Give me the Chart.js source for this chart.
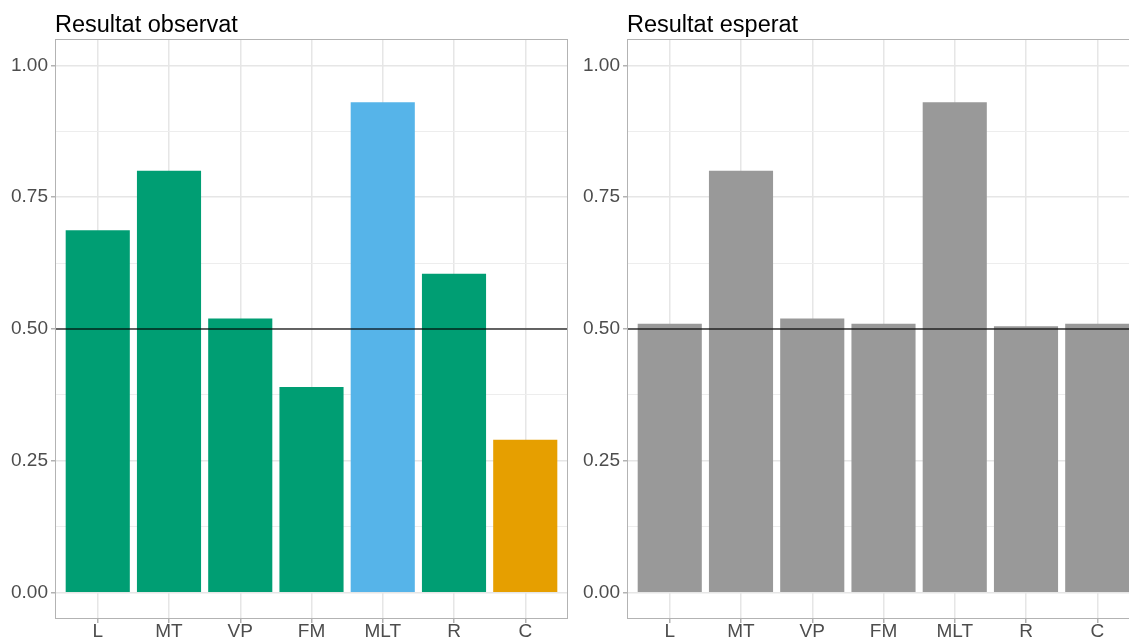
<!DOCTYPE html>
<html>
<head>
<meta charset="utf-8">
<script src="https://cdn.jsdelivr.net/npm/chart.js@4/dist/chart.umd.min.js"></script>
<style>
  html, body { margin: 0; padding: 0; background: #fff; }
  body { width: 1129px; height: 640px; overflow: hidden; position: relative; }
  canvas { position: absolute; top: 0; }
  #chartObs { left: 0; }
  #chartExp { left: 572px; }
</style>
</head>
<body>
<canvas id="chartObs" width="570" height="640"></canvas>
<canvas id="chartExp" width="570" height="640"></canvas>
<script>
/* categories */
var categories = ['L', 'MT', 'VP', 'FM', 'MLT', 'R', 'C'];
/* observed result */
var observed = [0.6875, 0.80, 0.52, 0.39, 0.93, 0.605, 0.29];
var observedColors = ['#009E73', '#009E73', '#009E73', '#009E73', '#56B4E9', '#009E73', '#E69F00'];
/* expected result */
var expected = [0.51, 0.80, 0.52, 0.51, 0.93, 0.505, 0.51];
var expectedColor = '#999999';
/* y ticks: majors get a label, minors only a light grid line */
var yTicks = [0, 0.125, 0.25, 0.375, 0.5, 0.625, 0.75, 0.875, 1];
var refValue = 0.5;
var titles = ['Resultat observat', 'Resultat esperat'];

Chart.defaults.font.family = '"Liberation Sans", Arial, sans-serif';

function isMajor(v) {
	return Math.abs(v / 0.25 - Math.round(v / 0.25)) < 1e-6;
}

/* title, reference line and panel border */
var panelPlugin = {
	id: 'panel',
	afterDatasetsDraw: function(chart) {
		var ctx = chart.ctx, a = chart.chartArea;
		var y = chart.scales.y.getPixelForValue(refValue);
		ctx.save();
		ctx.strokeStyle = 'rgba(0,0,0,0.58)';
		ctx.lineWidth = 2;
		ctx.beginPath();
		ctx.moveTo(a.left, y);
		ctx.lineTo(a.right, y);
		ctx.stroke();
		ctx.restore();
	},
	afterDraw: function(chart) {
		var ctx = chart.ctx, a = chart.chartArea;
		ctx.save();
		ctx.strokeStyle = '#b3b3b3';
		ctx.lineWidth = 1;
		ctx.strokeRect(a.left + 0.5, a.top + 0.5, a.right - a.left - 1, a.bottom - a.top - 1);
		ctx.fillStyle = '#000';
		ctx.font = '23.5px "Liberation Sans", Arial, sans-serif';
		ctx.textBaseline = 'alphabetic';
		ctx.fillText(chart.options.plugins.panel.title, a.left, 31.5);
		ctx.restore();
	}
};

function makeChart(id, values, colors, title) {
	var points = [];
	for (var i in values) {
		points.push({ x: Number(i), y: values[i] });
	}
	return new Chart(document.getElementById(id), {
		type: 'bar',
		data: {
			datasets: [{
				data: points,
				backgroundColor: colors,
				borderWidth: 0,
				inflateAmount: 0,
				categoryPercentage: 0.9,
				barPercentage: 1
			}]
		},
		options: {
			responsive: false,
			animation: false,
			layout: { padding: { top: 39, right: 2, left: 0, bottom: 0 } },
			plugins: {
				legend: { display: false },
				tooltip: { enabled: false },
				panel: { title: title }
			},
			scales: {
				x: {
					type: 'linear',
					offset: false,
					min: -0.6,
					max: categories.length - 0.4,
					afterBuildTicks: function(axis) {
						axis.ticks = categories.map(function(c, i) { return { value: i }; });
					},
					afterFit: function(axis) { axis.height = 21; },
					border: { display: false },
					grid: {
						offset: false,
						color: '#e6e6e6',
						lineWidth: 1.5,
						tickLength: 4,
						tickColor: '#b3b3b3'
					},
					ticks: {
						padding: -3,
						color: '#4d4d4d',
						font: { size: 19 },
						maxRotation: 0,
						autoSkip: false,
						callback: function(v) { return categories[v]; }
					}
				},
				y: {
					min: -0.05,
					max: 1.05,
					afterBuildTicks: function(axis) {
						axis.ticks = yTicks.map(function(v) { return { value: v }; });
					},
					afterFit: function(axis) { axis.width = 55; },
					border: { display: false },
					grid: {
						color: function(c) { return isMajor(c.tick.value) ? '#e6e6e6' : '#ededed'; },
						lineWidth: function(c) { return isMajor(c.tick.value) ? 1.5 : 1; },
						tickLength: 4,
						tickColor: function(c) { return isMajor(c.tick.value) ? '#b3b3b3' : 'rgba(0,0,0,0)'; }
					},
					ticks: {
						padding: 3,
						color: '#4d4d4d',
						font: { size: 19 },
						autoSkip: false,
						callback: function(v) { return isMajor(v) ? v.toFixed(2) : ''; }
					}
				}
			}
		},
		plugins: [panelPlugin]
	});
}

makeChart('chartObs', observed, observedColors, titles[0]);
makeChart('chartExp', expected, expectedColor, titles[1]);
</script>
</body>
</html>
